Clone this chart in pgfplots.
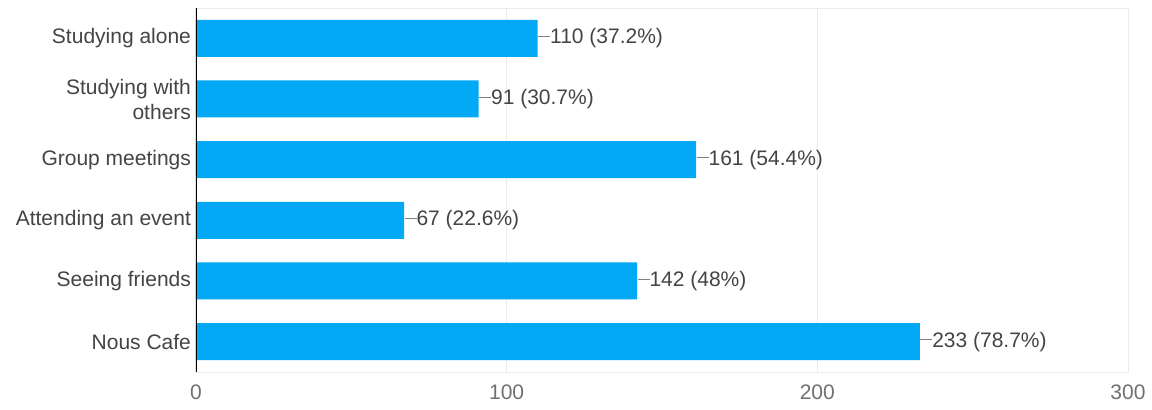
\documentclass[border=0pt]{standalone}
\usepackage{fontspec}
\setmainfont{Liberation Sans}
\usepackage{pgfplots}
\pgfplotsset{compat=1.18}
\usetikzlibrary{calc}

\definecolor{barblue}{HTML}{03A9F4}
\definecolor{labgray}{HTML}{444444}
\definecolor{tickgray}{HTML}{707070}
\definecolor{gridgray}{HTML}{EBEBEB}

\begin{document}
\begin{tikzpicture}
\begin{axis}[
    name=ax,
    scale only axis,
    width=466pt, height=182pt,
    xbar, bar width=18.5pt,
    xmin=0, xmax=300,
    ymin=-0.5, ymax=5.5,
    y dir=reverse,
    xtick={0,100,200,300},
    ytick={0,1,2,3,4,5},
    yticklabels={Studying alone,{Studying with\\others},Group meetings,Attending an event,Seeing friends,Nous Cafe},
    yticklabel style={align=right, font=\fontsize{10.5}{12.5}\selectfont, text=labgray, xshift=1pt},
    xticklabel style={font=\fontsize{10.5}{12.5}\selectfont, text=tickgray, yshift=-3pt},
    /pgf/number format/assume math mode=true,
    major tick length=0pt,
    xmajorgrids, grid style={gridgray},
    axis line style={draw=gridgray},
    point meta=explicit symbolic,
    nodes near coords={\textcolor{gray}{\rule[0.32em]{6pt}{0.5pt}}\pgfplotspointmeta},
    nodes near coords style={anchor=west, inner sep=0pt, xshift=0pt, font=\fontsize{10.5}{12.5}\selectfont, text=labgray},
]
\addplot[fill=barblue, draw=none] coordinates {
    (110,0) [110 (37.2\%)]
    (91,1)  [91 (30.7\%)]
    (161,2) [161 (54.4\%)]
    (67,3)  [67 (22.6\%)]
    (142,4) [142 (48\%)]
    (233,5) [233 (78.7\%)]
};
\draw[black, line width=0.6pt] (axis cs:0,-0.5) -- (axis cs:0,5.5);
\end{axis}
\pgfresetboundingbox
\path ($(ax.south west)+(-98pt,-19pt)$) rectangle ($(ax.north east)+(12pt,4pt)$);
\end{tikzpicture}
\end{document}
